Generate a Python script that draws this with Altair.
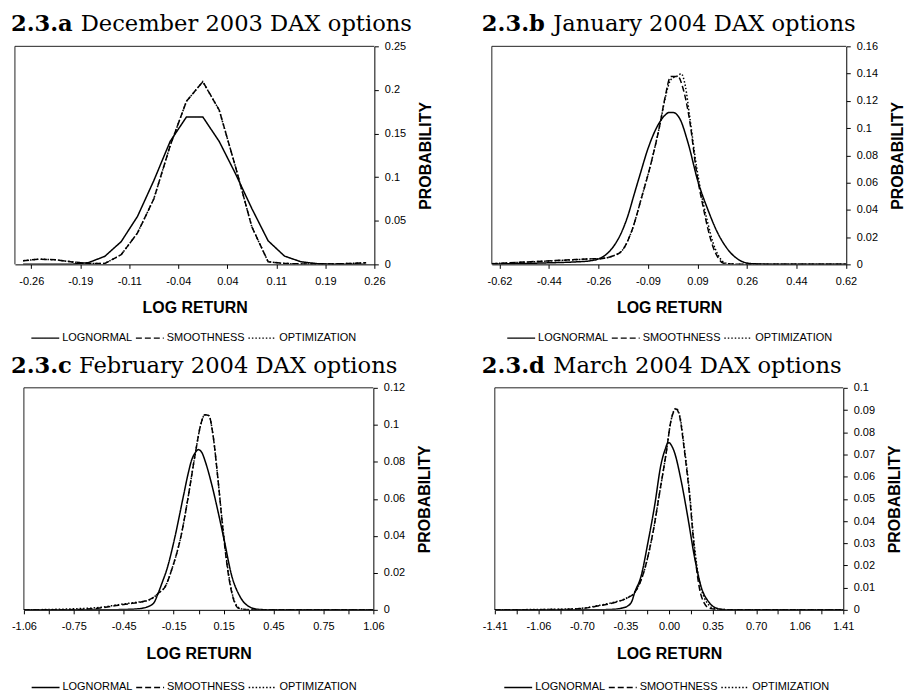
import altair as alt
import pandas as pd

SERIES = ["LOGNORMAL", "SMOOTHNESS", "OPTIMIZATION"]
DASHES = [[1, 0], [6, 3], [1.5, 2]]

TITLE_PREFIX = ["2.3.a", "2.3.b", "2.3.c", "2.3.d"]
TITLE_TEXT = ["December 2003 DAX options", "January 2004 DAX options",
              "February 2004 DAX options", "March 2004 DAX options"]

# ---------------- panel a : December 2003 ----------------
a_ticks = ["-0.26", "-0.19", "-0.11", "-0.04", "0.04", "0.11", "0.19", "0.26"]
a_x = [-0.2724, -0.2476, -0.2229, -0.1981, -0.1733, -0.1486, -0.1238, -0.0990,
       -0.0743, -0.0495, -0.0248, 0.0, 0.0248, 0.0495, 0.0743, 0.0990, 0.1238,
       0.1486, 0.1733, 0.1981, 0.2229, 0.2476]
a_logn = [0, 0, 0, 0.0002, 0.002, 0.0092, 0.026, 0.055, 0.096, 0.141, 0.169,
          0.169, 0.141, 0.104, 0.064, 0.027, 0.0095, 0.003, 0.0008, 0.0002, 0, 0]
a_smooth = [0.0042, 0.006, 0.0052, 0.0028, 0.001, 0.001, 0.011, 0.036, 0.075,
            0.136, 0.187, 0.2095, 0.177, 0.112, 0.043, 0.003, 0.001, 0.0005,
            0.0003, 0.0005, 0.001, 0.002]
a_opt = [0.0042, 0.006, 0.0052, 0.0028, 0.001, 0.001, 0.011, 0.036, 0.075,
         0.136, 0.187, 0.2095, 0.177, 0.112, 0.043, 0.003, 0.001, 0.0005,
         0.0003, 0.0005, 0.001, 0.002]

# ---------------- panel b : January 2004 ----------------
b_ticks = ["-0.62", "-0.44", "-0.26", "-0.09", "0.09", "0.26", "0.44", "0.62"]
b_logn_x = [-0.647, -0.55, -0.45, -0.35, -0.30, -0.266, -0.24, -0.207, -0.18,
            -0.159, -0.14, -0.117, -0.088, -0.052, -0.03, -0.012, 0.0, 0.025,
            0.055, 0.09, 0.126, 0.161, 0.197, 0.245, 0.28, 0.35, 0.45, 0.621]
b_logn_y = [0.0002, 0.0006, 0.0011, 0.0018, 0.0025, 0.004, 0.007, 0.0146, 0.025,
            0.0366, 0.05, 0.0659, 0.0853, 0.1025, 0.109, 0.1115, 0.1115, 0.107,
            0.089, 0.061, 0.040, 0.023, 0.011, 0.0024, 0.0006, 0.0001, 0, 0]
b_smooth_x = [-0.647, -0.55, -0.45, -0.35, -0.30, -0.26, -0.22, -0.183, -0.147,
              -0.112, -0.076, -0.046, -0.028, -0.007, 0.019, 0.037, 0.061, 0.085,
              0.109, 0.126, 0.144, 0.162, 0.18, 0.22, 0.30, 0.621]
b_smooth_y = [0.0005, 0.0015, 0.0025, 0.0035, 0.004, 0.0042, 0.0058, 0.0097,
              0.0244, 0.0487, 0.0756, 0.1025, 0.122, 0.1378, 0.1378, 0.129, 0.105,
              0.068, 0.042, 0.026, 0.013, 0.005, 0.001, 0.0002, 0, 0]
b_opt_x = [-0.647, -0.55, -0.45, -0.35, -0.30, -0.26, -0.22, -0.183, -0.147,
           -0.112, -0.076, -0.046, -0.028, -0.007, 0.019, 0.03, 0.045, 0.061,
           0.085, 0.109, 0.126, 0.144, 0.162, 0.18, 0.2, 0.25, 0.621]
b_opt_y = [0.0005, 0.0014, 0.0024, 0.0034, 0.004, 0.0042, 0.0058, 0.0097, 0.0244,
           0.0487, 0.0756, 0.1025, 0.121, 0.1355, 0.1385, 0.14, 0.131, 0.108,
           0.072, 0.045, 0.030, 0.016, 0.007, 0.002, 0.0005, 0, 0]

# ---------------- panel c : February 2004 ----------------
c_ticks = ["-1.06", "-0.75", "-0.45", "-0.15", "0.15", "0.45", "0.75", "1.06"]
c_logn_x = [-1.06, -0.6, -0.45, -0.364, -0.3, -0.27, -0.244, -0.22, -0.193,
            -0.143, -0.093, -0.06, -0.043, -0.02, -0.002, 0.02, 0.038, 0.078,
            0.118, 0.159, 0.199, 0.249, 0.3, 0.36, 0.45, 1.06]
c_logn_y = [0, 0, 0.0002, 0.0006, 0.002, 0.004, 0.0093, 0.015, 0.0218, 0.0397,
            0.0612, 0.075, 0.0808, 0.085, 0.0866, 0.085, 0.0808, 0.0683, 0.053,
            0.036, 0.019, 0.0075, 0.0021, 0.0003, 0, 0]
c_smooth_x = [-1.06, -0.8, -0.686, -0.6, -0.485, -0.42, -0.364, -0.31, -0.284,
              -0.244, -0.2, -0.163, -0.103, -0.063, -0.022, 0.014, 0.038, 0.062,
              0.088, 0.118, 0.149, 0.179, 0.209, 0.239, 0.28, 0.35, 1.06]
c_smooth_y = [0, 0.0001, 0.0004, 0.001, 0.0025, 0.0033, 0.004, 0.0052, 0.0062,
              0.009, 0.013, 0.0218, 0.0415, 0.0612, 0.0835, 0.1005, 0.1055, 0.105,
              0.094, 0.070, 0.042, 0.020, 0.0065, 0.001, 0.0002, 0, 0]
c_opt_x = [-1.06, -0.9, -0.75, -0.6, -0.485, -0.42, -0.364, -0.31, -0.284, -0.244,
           -0.2, -0.163, -0.103, -0.063, -0.022, 0.014, 0.038, 0.062, 0.088,
           0.118, 0.149, 0.179, 0.209, 0.239, 0.27, 0.35, 1.06]
c_opt_y = [0, 0.0002, 0.0006, 0.0013, 0.0028, 0.0036, 0.0042, 0.005, 0.006, 0.009,
           0.013, 0.0218, 0.0415, 0.0612, 0.0835, 0.1005, 0.1055, 0.105, 0.094,
           0.070, 0.043, 0.021, 0.007, 0.0015, 0.0003, 0, 0]

# ---------------- panel d : March 2004 ----------------
d_ticks = ["-1.41", "-1.06", "-0.70", "-0.35", "0.00", "0.35", "0.70", "1.06", "1.41"]
d_logn_x = [-1.41, -0.6, -0.44, -0.38, -0.333, -0.3, -0.279, -0.226, -0.172,
            -0.118, -0.064, -0.03, -0.011, 0.0, 0.02, 0.043, 0.097, 0.151, 0.205,
            0.258, 0.325, 0.392, 0.45, 0.6, 1.41]
d_logn_y = [0, 0, 0.0003, 0.0008, 0.0018, 0.004, 0.0077, 0.0152, 0.030, 0.0465,
            0.0658, 0.0725, 0.0751, 0.0753, 0.074, 0.0711, 0.0584, 0.042, 0.0241,
            0.0107, 0.0033, 0.0006, 0.0001, 0, 0]
d_smooth_x = [-1.41, -1.0, -0.8, -0.709, -0.548, -0.44, -0.333, -0.279, -0.198,
              -0.131, -0.077, -0.024, 0.016, 0.04, 0.056, 0.084, 0.124, 0.164,
              0.205, 0.245, 0.285, 0.325, 0.4, 0.6, 1.41]
d_smooth_y = [0, 0.0001, 0.0003, 0.0006, 0.002, 0.0033, 0.0055, 0.0077, 0.0182,
              0.0346, 0.0525, 0.0704, 0.0853, 0.0895, 0.0905, 0.0875, 0.0718,
              0.0525, 0.027, 0.010, 0.003, 0.0008, 0.0001, 0, 0]
d_opt_x = [-1.41, -1.0, -0.8, -0.709, -0.548, -0.44, -0.333, -0.279, -0.198,
           -0.131, -0.077, -0.024, 0.016, 0.04, 0.056, 0.084, 0.124, 0.164, 0.205,
           0.245, 0.285, 0.325, 0.36, 0.45, 0.6, 1.41]
d_opt_y = [0, 0.0002, 0.0004, 0.0007, 0.0022, 0.0035, 0.0056, 0.0078, 0.0182,
           0.0346, 0.0525, 0.0704, 0.0853, 0.0898, 0.0908, 0.088, 0.073, 0.054,
           0.029, 0.013, 0.0055, 0.002, 0.0006, 0.0001, 0, 0]

LABEL_FONT = "Liberation Sans"
TITLE_FONT = "DejaVu Serif"


def long_frame(pairs):
    rows = []
    for name, xs, ys in pairs:
        for i, (xv, yv) in enumerate(zip(xs, ys)):
            rows.append({"x": xv, "y": yv, "series": name, "i": i})
    return pd.DataFrame(rows)


def panel(pairs, ticks, tick_first, tick_last, minor, x_domain, x_range, width,
          height, y_max, y_step, prefix, text, bold_x, text_x, legend_x,
          legend_y, interp, anchor=False):
    n = len(ticks)
    step = (tick_last - tick_first) / (n - 1)
    arr = "[" + ",".join("'" + t + "'" for t in ticks) + "]"
    if minor:
        half = step / 2
        tick_vals = [tick_first + k * half for k in range(2 * (n - 1) + 1)]
        idx = f"round((datum.value - ({tick_first})) / {half})"
        label_expr = f"({idx} % 2 == 0) ? {arr}[{idx} / 2] : ''"
    else:
        tick_vals = [tick_first + k * step for k in range(n)]
        idx = f"round((datum.value - ({tick_first})) / {step})"
        label_expr = f"{arr}[{idx}]"
    ny = int(round(y_max / y_step))
    y_vals = [round(k * y_step, 4) for k in range(ny + 1)]

    x0 = x_range[0]
    x_center = (x_range[0] + x_range[1]) / 2.0

    df = long_frame(pairs)
    lines = alt.Chart(df).mark_line(color="black", strokeWidth=1.5, clip=True,
                                    interpolate=interp).encode(
        x=alt.X("x:Q",
                scale=alt.Scale(domain=x_domain, range=list(x_range), nice=False, zero=False),
                axis=alt.Axis(values=tick_vals, labelExpr=label_expr, title="LOG RETURN",
                              grid=False, tickSize=4, tickColor="black", domainColor="black",
                              labelFont=LABEL_FONT, labelFontSize=11, labelColor="black",
                              labelPadding=7, labelFlush=False, labelOverlap=False,
                              titleFont=LABEL_FONT, titleFontSize=16, titleFontWeight="bold",
                              titleColor="black", titleX=x_center, titleY=43.5,
                              titleBaseline="middle", titleAlign="center")),
        y=alt.Y("y:Q",
                scale=alt.Scale(domain=[0, y_max], nice=False, zero=True),
                axis=alt.Axis(orient="right", values=y_vals, format=".2~f", grid=False,
                              title="PROBABILITY", tickSize=4, tickColor="black",
                              domainColor="black", labelFont=LABEL_FONT, labelFontSize=11,
                              labelColor="black", labelPadding=6, labelFlush=False,
                              labelOverlap=False, titleFont=LABEL_FONT, titleFontSize=16,
                              titleFontWeight="bold", titleColor="black", titleAngle=270,
                              titleX=51.5, titleY=height / 2.0, titleBaseline="middle",
                              titleAlign="center")),
        strokeDash=alt.StrokeDash(
            "series:N",
            scale=alt.Scale(domain=SERIES, range=DASHES),
            legend=alt.Legend(orient="none", legendX=legend_x, legendY=legend_y,
                              direction="horizontal", title=None, symbolType="stroke",
                              symbolSize=784, symbolStrokeWidth=1.3,
                              symbolStrokeColor="black", labelFont=LABEL_FONT,
                              labelFontSize=11, labelColor="black", labelOffset=2,
                              columnPadding=0, padding=0)),
        detail="series:N",
        order="i:Q",
    )

    one = pd.DataFrame({"z": [0]})
    top_rule = alt.Chart(one).mark_rule(color="#222", strokeWidth=1).encode(
        x=alt.value(x0), x2=alt.value(width), y=alt.value(0))
    left_rule = alt.Chart(one).mark_rule(color="#222", strokeWidth=1).encode(
        x=alt.value(x0), y=alt.value(0), y2=alt.value(height))

    bold = alt.Chart(pd.DataFrame({"t": [prefix]})).mark_text(
        align="left", baseline="alphabetic", font=TITLE_FONT, fontSize=22.7,
        fontWeight="bold", color="black").encode(
        text="t:N", x=alt.value(bold_x), y=alt.value(-15))
    regular = alt.Chart(pd.DataFrame({"t": [text]})).mark_text(
        align="left", baseline="alphabetic", font=TITLE_FONT, fontSize=22.7,
        fontWeight="normal", color="black").encode(
        text="t:N", x=alt.value(text_x), y=alt.value(-15))

    layers = [top_rule, left_rule, lines, bold, regular]
    if anchor:
        layers.append(alt.Chart(one).mark_rule(opacity=0).encode(
            x=alt.value(-14), x2=alt.value(-13), y=alt.value(-44)))
    return alt.layer(*layers).properties(width=width, height=height)


pa = panel([("OPTIMIZATION", a_x, a_opt), ("SMOOTHNESS", a_x, a_smooth),
            ("LOGNORMAL", a_x, a_logn)],
           a_ticks, -0.26, 0.26, False, [-0.2848, 0.26], (0, 361), 361, 219,
           0.25, 0.05, TITLE_PREFIX[0], TITLE_TEXT[0], -4, 66, 15.5, 278,
           "linear", anchor=True)
pb = panel([("OPTIMIZATION", b_opt_x, b_opt_y), ("SMOOTHNESS", b_smooth_x, b_smooth_y),
            ("LOGNORMAL", b_logn_x, b_logn_y)],
           b_ticks, -0.62, 0.62, False, [-0.6474, 0.621], (0, 356), 356, 219,
           0.16, 0.02, TITLE_PREFIX[1], TITLE_TEXT[1], -10, 61.7, 14.5, 278,
           "monotone")
pc = panel([("OPTIMIZATION", c_opt_x, c_opt_y), ("SMOOTHNESS", c_smooth_x, c_smooth_y),
            ("LOGNORMAL", c_logn_x, c_logn_y)],
           c_ticks, -1.06, 1.06, True, [-1.06, 1.06], (9, 360), 360, 223,
           0.12, 0.02, TITLE_PREFIX[2], TITLE_TEXT[2], -4, 64.3, 15.8, 286,
           "monotone")
pd_ = panel([("OPTIMIZATION", d_opt_x, d_opt_y), ("SMOOTHNESS", d_smooth_x, d_smooth_y),
             ("LOGNORMAL", d_logn_x, d_logn_y)],
            d_ticks, -1.41, 1.41, True, [-1.41, 1.41], (3, 353), 353, 223,
            0.1, 0.01, TITLE_PREFIX[3], TITLE_TEXT[3], -10, 61.7, 11.5, 286,
            "monotone")

chart = alt.concat(pa, pb, pc, pd_, columns=2,
                   spacing={"row": 124, "column": 118}, bounds="flush").resolve_scale(
    x="independent", y="independent", strokeDash="independent").resolve_legend(
    strokeDash="independent").properties(
    padding=0, background="white").configure_view(stroke="transparent")

chart.save("out.html", embed_options={"renderer": "svg", "actions": False})
